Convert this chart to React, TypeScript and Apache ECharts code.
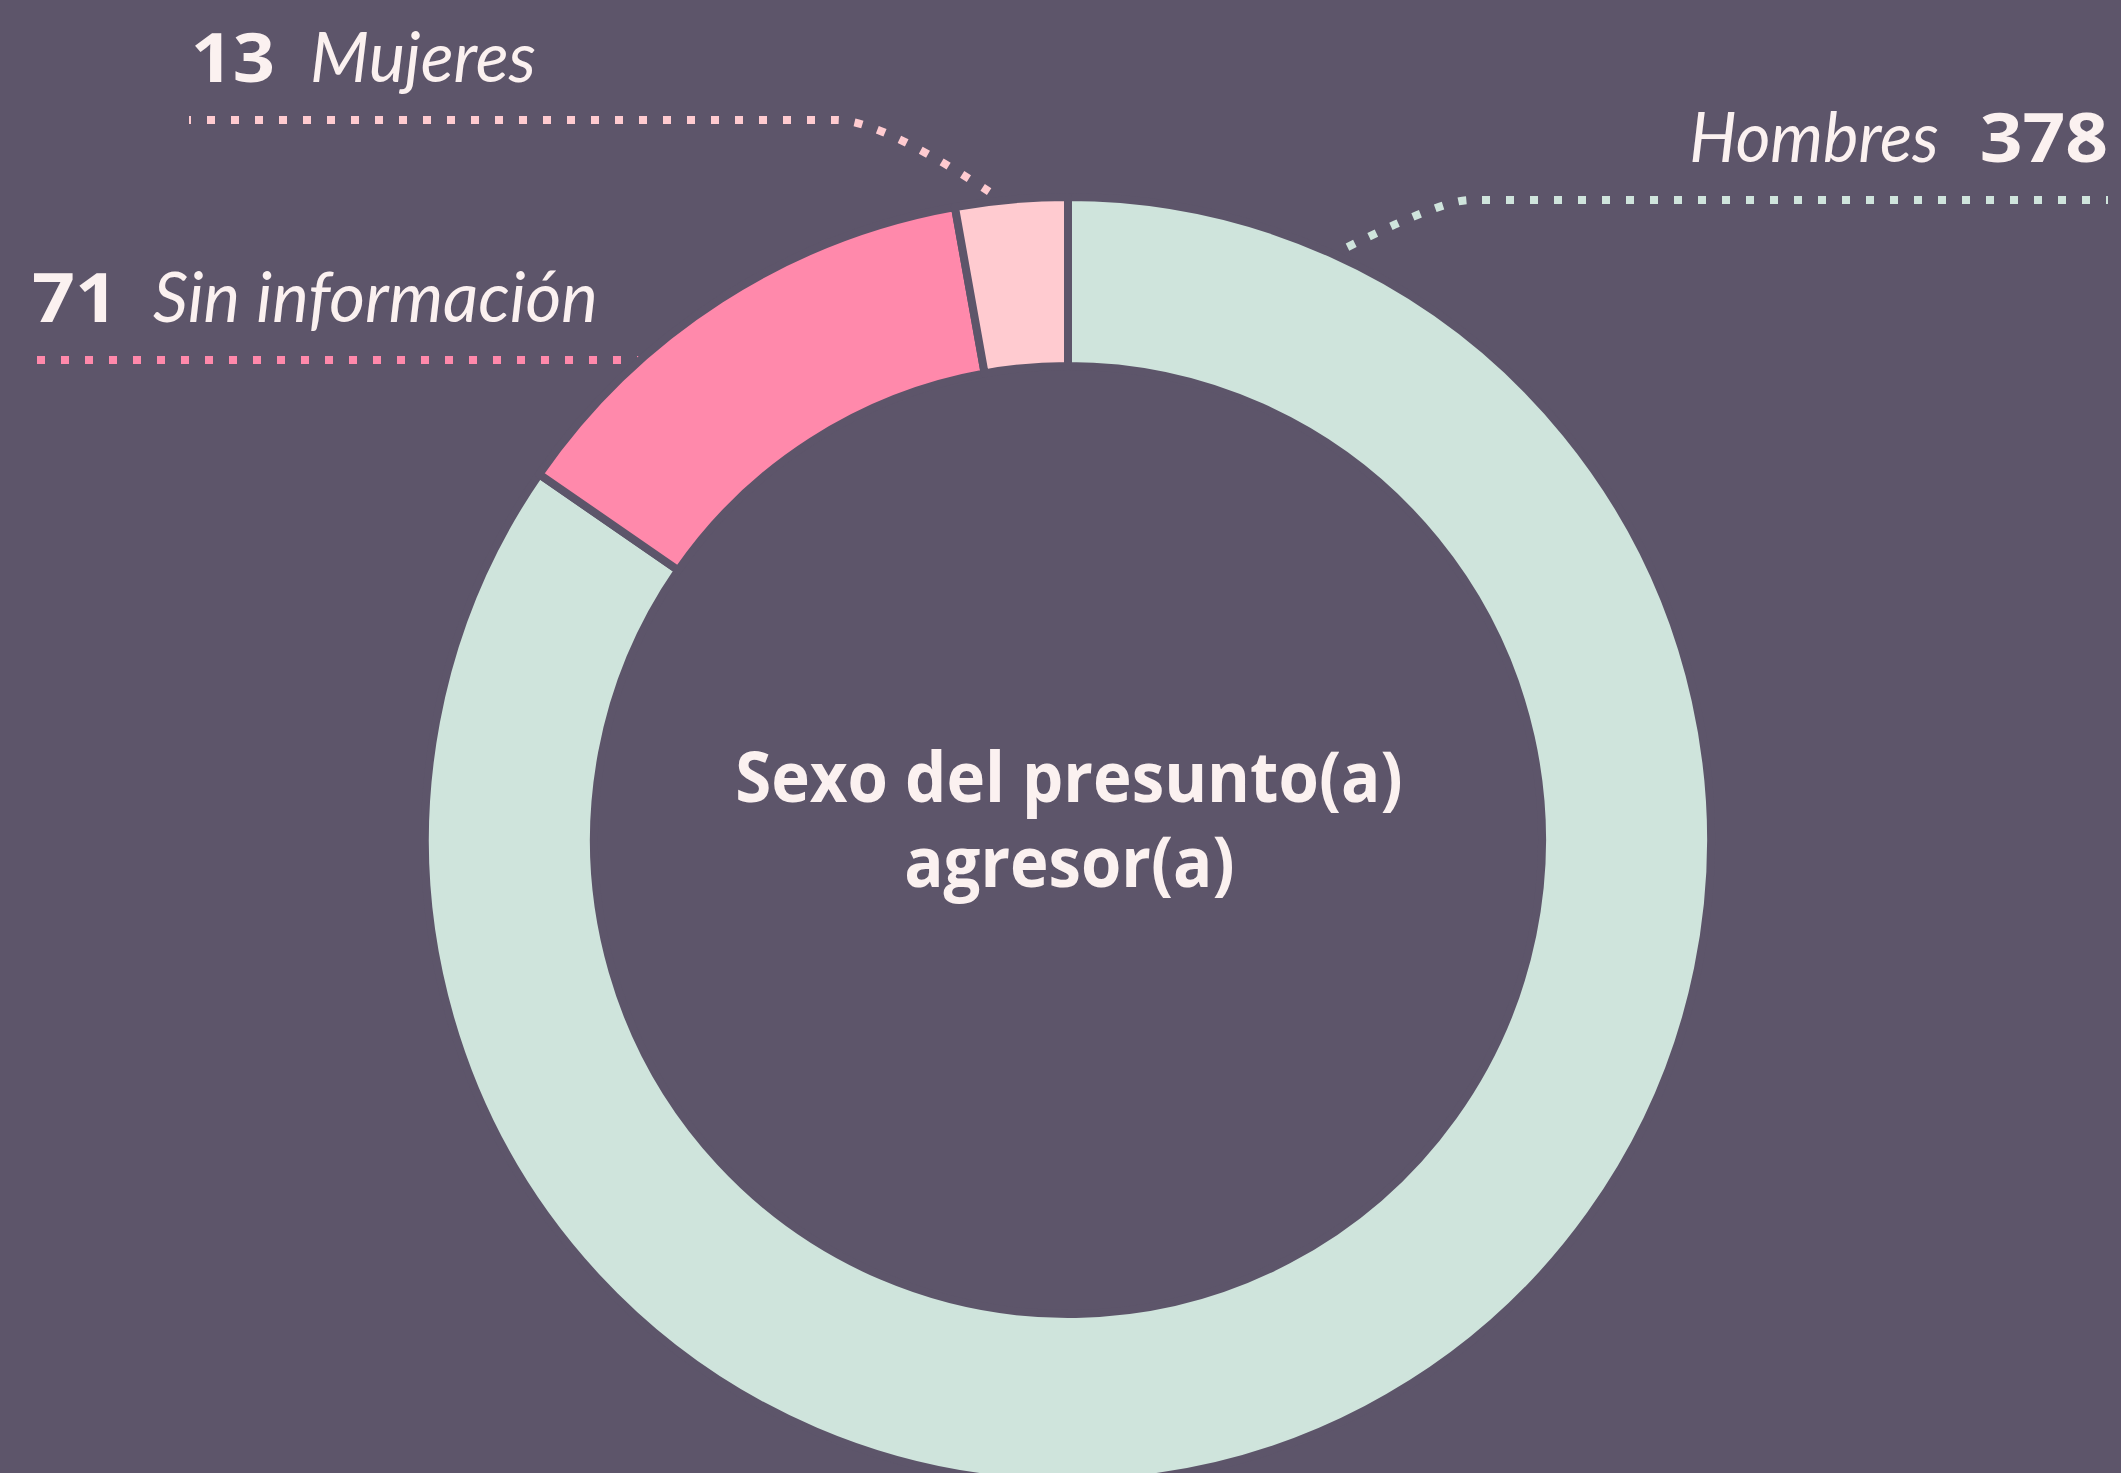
import React, { useEffect, useRef } from 'react';
import * as echarts from 'echarts';

// ---- data ----
const categories = ['Hombres', 'Sin información', 'Mujeres'];
const counts = [378, 71, 13];
const arcValues = [391, 58, 13];
const centerTitle = ['Sexo del presunto(a)', 'agresor(a)'];

// ---- style ----
const BG = '#5d556a';
const TEXT = '#fbf1f0';
const COLORS = ['#cfe4dc', '#ff89ab', '#ffcbd0'];

const NUM_FONT = { family: '"Open Sans", "Noto Sans", sans-serif', size: 68, weight: 700, style: 'normal' };
const NAME_FONT = { family: 'Lato, "Open Sans", sans-serif', size: 70, weight: 400, style: 'italic' };
const TITLE_FONT = { family: '"Open Sans", "Noto Sans", sans-serif', size: 70, weight: 700, style: 'normal' };

// label layout per category: [left ink x, ink width], baseline y
const labelLayout = [
  { name: [1692, 246], num: [1982, 124], baseline: 162 },
  { num: [33, 74], name: [153, 442], baseline: 322 },
  { num: [195, 78], name: [313, 222], baseline: 82 },
];
const leaderPaths = [
  { d: 'M2108 200 L1470 200 Q1438 200 1316 263', offset: 6 },
  { d: 'M37 360 L656 360', offset: 0 },
  { d: 'M189 120 L836 120 Q885 120 1012 207', offset: 6 },
];
const titleLayout = [
  [738, 662, 802],
  [906, 326, 887],
];

const measureCtx = document.createElement('canvas').getContext('2d') as CanvasRenderingContext2D;

function makeText(str: string, f: any, left: number, width: number, baseline: number) {
  const fontStr = `${f.style} ${f.weight} ${f.size}px ${f.family}`;
  measureCtx.font = fontStr;
  const m = measureCtx.measureText(str);
  const inkL = m.actualBoundingBoxLeft || 0;
  const ink = inkL + (m.actualBoundingBoxRight || m.width);
  const sx = ink > 0 ? width / ink : 1;
  const asc = (m as any).fontBoundingBoxAscent ?? f.size * 0.95;
  const desc = (m as any).fontBoundingBoxDescent ?? f.size * 0.25;
  const central = (asc - desc) / 2;
  return {
    type: 'text',
    z: 100,
    silent: true,
    x: left + inkL * sx,
    y: baseline - central,
    scaleX: sx,
    style: {
      text: str,
      x: 0,
      y: 0,
      fill: TEXT,
      fontFamily: f.family,
      fontSize: f.size,
      fontWeight: f.weight,
      fontStyle: f.style,
      align: 'left',
      verticalAlign: 'middle',
    },
  };
}

export default function App() {
  const ref = useRef<HTMLDivElement>(null);
  useEffect(() => {
    if (!ref.current) return;
    const chart = echarts.init(ref.current, null, { renderer: 'svg' });

    const graphics: any[] = [];
    leaderPaths.forEach((lp, i) => {
      const shapeName = 'leader' + i;
      echarts.graphic.registerShape(shapeName, (echarts.graphic as any).extendPath(lp.d, {}));
      graphics.push({
        type: shapeName,
        x: 0,
        y: 0,
        z: 0,
        silent: true,
        style: {
          fill: 'none',
          stroke: COLORS[i],
          lineWidth: 8,
          lineDash: [8, 16],
          lineDashOffset: lp.offset,
          lineCap: 'butt',
        },
      });
    });

    categories.forEach((name, i) => {
      const L = labelLayout[i];
      graphics.push(makeText(String(counts[i]), NUM_FONT, L.num[0], L.num[1], L.baseline));
      graphics.push(makeText(name, NAME_FONT, L.name[0], L.name[1], L.baseline));
    });

    centerTitle.forEach((line, i) => {
      const [l, w, b] = titleLayout[i];
      graphics.push(makeText(line, TITLE_FONT, l, w, b));
    });

    chart.setOption({
      animation: false,
      backgroundColor: BG,
      graphic: { elements: graphics },
      series: [
        {
          type: 'pie',
          z: 2,
          center: [1068, 840],
          radius: [474, 643],
          startAngle: 90,
          clockwise: true,
          silent: true,
          label: { show: false },
          labelLine: { show: false },
          emphasis: { disabled: true },
          itemStyle: { borderColor: BG, borderWidth: 8 },
          data: categories.map((n, i) => ({
            name: n,
            value: arcValues[i],
            itemStyle: { color: COLORS[i] },
          })),
        },
      ],
    });
    return () => chart.dispose();
  }, []);

  return (
    <div
      ref={ref}
      style={{ position: 'fixed', left: 0, top: 0, width: 2121, height: 1473, background: BG }}
    />
  );
}
